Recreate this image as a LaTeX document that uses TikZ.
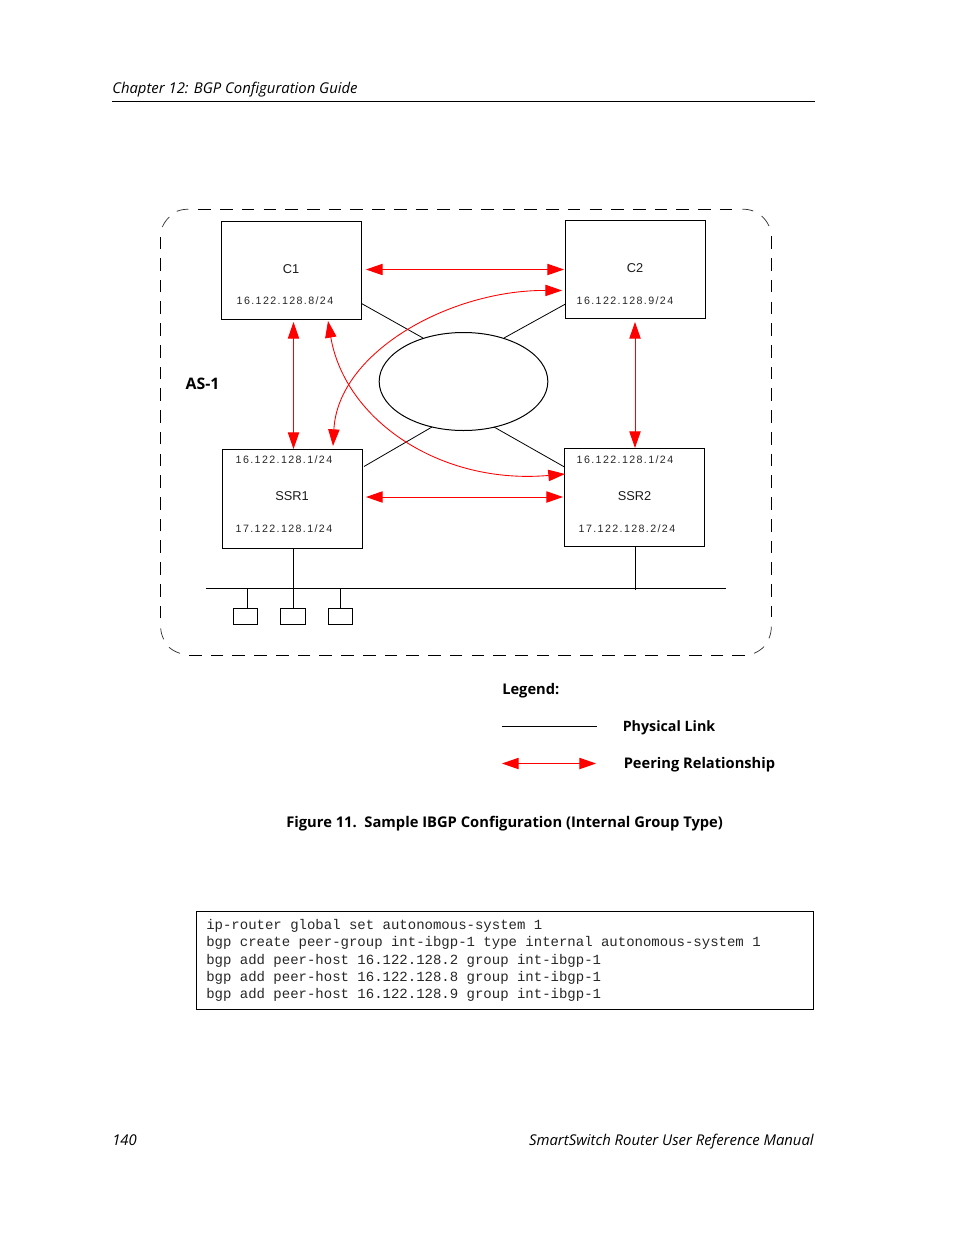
\documentclass[tikz,border=0pt]{standalone}
\usepackage{fontspec}
\setmainfont{Open Sans}
\newfontfamily\labelfont{Liberation Sans}
\newfontfamily\addrfont[LetterSpace=13]{Liberation Sans}
\newfontfamily\codefont{Liberation Mono}
\usetikzlibrary{arrows.meta,shapes.geometric}
\definecolor{peerred}{RGB}{255,0,0}
\tikzset{
  px/.style={line width=0.75pt},
  box/.style={draw=black,px,rectangle,inner sep=0pt,outer sep=0pt},
  link/.style={draw=black,line width=0.6pt},
  peer/.style={draw=peerred,line width=0.75pt,{Triangle[length=12.5pt,width=8.5pt,fill=peerred]}-{Triangle[length=12.5pt,width=8.5pt,fill=peerred]}},
  peercurve/.style={peer,line width=0.65pt},
  name label/.style={font=\labelfont\fontsize{9.6}{11}\selectfont,inner sep=0pt,text=black!90},
  addr/.style={font=\addrfont\fontsize{8}{9}\selectfont,inner sep=0pt,text=black!85},
  runtext/.style={font=\fontsize{11.15}{13}\selectfont\itshape,inner sep=0pt,anchor=base west},
  heading/.style={font=\fontsize{11}{13}\selectfont\bfseries,inner sep=0pt,anchor=base west},
  edge dash/.style={px,dash pattern=on 9.5pt off 6.8pt},
  edge arc/.style={draw=black!80,line width=0.55pt},
}
\begin{document}
\begin{tikzpicture}[x=0.75pt,y=-0.75pt]
\useasboundingbox (0,0) rectangle (954,1235);
% running head
\node[runtext] (head) at (112,93) {Chapter 12: BGP Configuration Guide};
\coordinate (ruleL) at (112,101.5); \coordinate (ruleR) at (815,101.5);
\draw[px] (ruleL) -- (ruleR);
% AS boundary
\draw[edge dash] (198.3,209.5) -- (732.3,209.5);
\draw[edge dash] (771.5,236.3) -- (771.5,616.7);
\draw[edge dash] (745,655.5) -- (189.3,655.5);
\draw[edge dash] (160.5,618.3) -- (160.5,237);
\draw[edge arc] (162.3,227) to[bend left=10] (169.3,217);
\draw[edge arc] (176.7,211.3) to[bend left=10] (188.3,209.3);
\draw[edge arc] (742.3,209.3) to[bend left=10] (753.3,211);
\draw[edge arc] (761.7,216) to[bend left=10] (769,226);
\draw[edge arc] (771.3,626.7) to[bend left=10] (769,638.3);
\draw[edge arc] (764,646.7) to[bend left=10] (754,653.3);
\draw[edge arc] (180,653.3) to[bend left=10] (169,647.3);
\draw[edge arc] (163.7,639.3) to[bend left=10] (160.7,628.3);
% cloud
\node[draw=black,px,ellipse,minimum width=126.5pt,minimum height=73.5pt,inner sep=0pt,outer sep=0pt] (cloud) at (463.5,381.5) {};
% boxes
\node[box,minimum width=105pt,minimum height=73.5pt] (c1) at (291.5,270.5) {};
\node[box,minimum width=105pt,minimum height=73.5pt] (c2) at (635.5,269.5) {};
\node[box,minimum width=105pt,minimum height=74.25pt] (ssr1) at (292.5,499) {};
\node[box,minimum width=105pt,minimum height=73.5pt] (ssr2) at (634.5,497.5) {};
% box labels
\node[name label] (c1n) at (291,269) {C1};
\node[addr] (c1a) at (285,300.5) {16.122.128.8/24};
\node[name label] (c2n) at (635,268) {C2};
\node[addr] (c2a) at (625,300.5) {16.122.128.9/24};
\node[addr] (s1a) at (284,459.5) {16.122.128.1/24};
\node[name label] (s1n) at (292,496) {SSR1};
\node[addr] (s1b) at (284,528.5) {17.122.128.1/24};
\node[addr] (s2a) at (625,459.5) {16.122.128.1/24};
\node[name label] (s2n) at (634.5,496) {SSR2};
\node[addr] (s2b) at (627,528.5) {17.122.128.2/24};
\node[font=\fontsize{11.9}{13}\selectfont\bfseries,inner sep=0pt] (as) at (202.5,384) {AS-1};
% physical links to cloud
\coordinate (c1p) at (361.5,303.5); \coordinate (cl1) at (423,338);
\coordinate (c2p) at (565.5,304); \coordinate (cl2) at (504,338);
\coordinate (s1p) at (364,466.5); \coordinate (cl3) at (432,427);
\coordinate (s2p) at (564.5,467); \coordinate (cl4) at (494,427);
\draw[link] (c1p) -- (cl1);
\draw[link] (c2p) -- (cl2);
\draw[link] (s1p) -- (cl3);
\draw[link] (s2p) -- (cl4);
% bus
\coordinate (busL) at (206,588.5); \coordinate (busR) at (726,588.5);
\draw[px] (busL) -- (busR);
\draw[px] (ssr1.south) ++(1,0) -- ++(0,60);
\draw[px] (ssr2.south) ++(1,0) -- ++(0,43);
\node[box,minimum width=18pt,minimum height=12pt,anchor=north west] (h1) at (233.5,608.5) {};
\node[box,minimum width=18.75pt,minimum height=12pt,anchor=north west] (h2) at (280.5,608.5) {};
\node[box,minimum width=18pt,minimum height=12pt,anchor=north west] (h3) at (328.5,608.5) {};
\coordinate (b1) at (247.5,588.5); \coordinate (b3) at (340.5,588.5);
\draw[px] (b1) -- (b1 |- h1.north);
\draw[px] (b3) -- (b3 |- h3.north);
% peering
\coordinate (p1) at (366,269.5); \coordinate (p2) at (564,269.5);
\draw[peer] (p1) -- (p2);
\coordinate (p3) at (293.5,322); \coordinate (p4) at (293.5,449);
\draw[peer] (p3) -- (p4);
\coordinate (p5) at (635,322); \coordinate (p6) at (635,448);
\draw[peer] (p5) -- (p6);
\coordinate (p7) at (366,497); \coordinate (p8) at (563,497);
\draw[peer] (p7) -- (p8);
\coordinate (q1) at (333,446); \coordinate (q2) at (562,290.5);
\draw[peercurve] (q1) .. controls (338,352) and (450,290) .. (q2);
\coordinate (q3) at (328,321); \coordinate (q4) at (565,474);
\draw[peercurve] (q3) .. controls (345,420) and (440,485) .. (q4);
% legend
\node[heading] (leg) at (502,694) {Legend:};
\coordinate (l1) at (502,726.5); \coordinate (l2) at (597,726.5);
\draw[link] (l1) -- (l2);
\node[heading,font=\fontsize{10.7}{13}\selectfont\bfseries] (leg1) at (622.5,731) {Physical Link};
\coordinate (l3) at (502,763.5); \coordinate (l4) at (596,763.5);
\draw[peer] (l3) -- (l4);
\node[heading] (leg2) at (623.5,768) {Peering Relationship};
% caption
\node[heading,font=\fontsize{11.05}{13}\selectfont\bfseries] (cap) at (286,827) {Figure 11.\ \ Sample IBGP Configuration (Internal Group Type)};
% code box
\node[box,minimum width=462.75pt,minimum height=73.5pt,anchor=north west] (code) at (196.5,911.5) {};
\node[font=\codefont\fontsize{10.5}{12.95}\selectfont,text=black!85,inner sep=0pt,anchor=north west,align=left] (codetext) at (206,919.3) {ip-router global set autonomous-system 1\\
bgp create peer-group int-ibgp-1 type internal autonomous-system 1\\
bgp add peer-host 16.122.128.2 group int-ibgp-1\\
bgp add peer-host 16.122.128.8 group int-ibgp-1\\
bgp add peer-host 16.122.128.9 group int-ibgp-1};
% foot
\node[runtext] (pg) at (112,1145) {140};
\node[runtext,anchor=base east] (man) at (814,1145) {SmartSwitch Router User Reference Manual};
\end{tikzpicture}
\end{document}
